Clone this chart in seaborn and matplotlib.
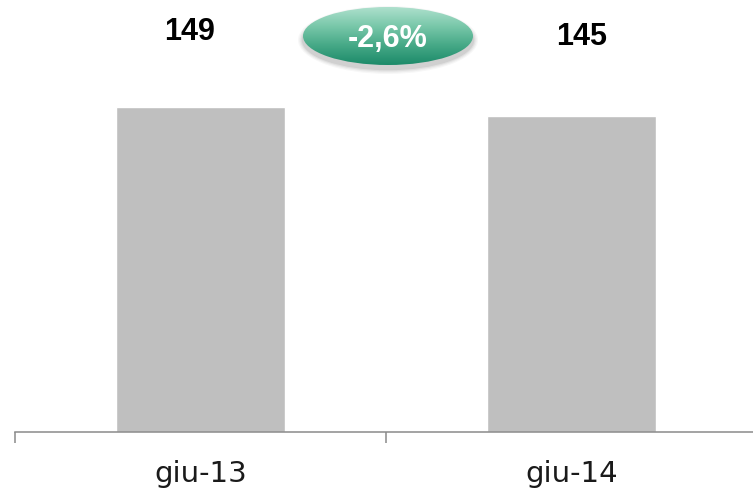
import numpy as np
import pandas as pd
import matplotlib
matplotlib.use("Agg")
import matplotlib.pyplot as plt
from matplotlib.patches import Ellipse
from matplotlib.colors import LinearSegmentedColormap
import seaborn as sns

# Data
periods = ["giu-13", "giu-14"]
headcount = [149, 145]
change_label = "-2,6%"

sns.set_theme(style="white")
plt.rcParams["font.family"] = ["DejaVu Sans"]

W, H = 753, 495
fig = plt.figure(figsize=(W / 100, H / 100), dpi=100)
fig.patch.set_facecolor("white")

# Main bar axes (baseline at y=432 px)
ax = fig.add_axes([14.5 / W, (H - 432) / H, 743 / W, 432 / H])
df = pd.DataFrame({"period": periods, "value": headcount})
sns.barplot(data=df, x="period", y="value", color="#BFBFBF", saturation=1,
            width=0.455, ax=ax)
ax.set_xlim(-0.5, 1.5)
ax.set_ylim(0, 198.3)
ax.set_xlabel("")
ax.set_ylabel("")
ax.set_yticks([])
for s in ["top", "right", "left"]:
    ax.spines[s].set_visible(False)
ax.spines["bottom"].set_color("#8A8A8A")
ax.spines["bottom"].set_linewidth(1.1)

# Boundary tick marks and centred category labels
ax.set_xticks([-0.5, 0.5, 1.5])
ax.set_xticklabels([])
ax.tick_params(axis="x", which="major", direction="out", length=8,
               width=1.1, color="#8A8A8A", bottom=True)
ax.set_xticks([0, 1], minor=True)
ax.set_xticklabels(periods, minor=True, fontsize=21, color="#1A1A1A")
ax.tick_params(axis="x", which="minor", length=0, pad=20)

# Value labels above the bars
label_pos = [(-0.029, 183.8), (1.026, 181.3)]
for (lx, ly), v in zip(label_pos, headcount):
    ax.text(lx, ly, f"{v}", ha="center", va="center", fontsize=22,
            fontweight="bold", family="Liberation Sans", color="#000000")

# Overlay in pixel coordinates for the change badge
ov = fig.add_axes([0, 0, 1, 1], facecolor="none")
ov.set_xlim(0, W)
ov.set_ylim(H, 0)
ov.axis("off")

cx, cy, ew, eh = 388, 36, 170, 58
# soft shadow below the badge
for i, a in enumerate([0.03, 0.04, 0.05, 0.07]):
    grow = (4 - i) * 2.5
    ov.add_patch(Ellipse((cx, cy + 4), ew + grow, eh + grow, facecolor="#000000",
                         edgecolor="none", alpha=a))

cmap = LinearSegmentedColormap.from_list(
    "badge", ["#AEE0CD", "#78C7A9", "#45A886", "#1C8A69"])
grad = np.linspace(0, 1, 256).reshape(-1, 1)
img = ov.imshow(grad, cmap=cmap, aspect="auto",
                extent=(cx - ew / 2, cx + ew / 2, cy + eh / 2, cy - eh / 2),
                zorder=3)
clip = Ellipse((cx, cy), ew, eh, facecolor="none", edgecolor="none",
               transform=ov.transData)
ov.add_patch(clip)
img.set_clip_path(clip)
ov.set_xlim(0, W)
ov.set_ylim(H, 0)
ov.text(cx - 0.5, 39, change_label, ha="center", va="center", fontsize=22,
        fontweight="bold", family="Liberation Sans", color="white", zorder=4)

fig.savefig("out.png", dpi=100, facecolor="white")
